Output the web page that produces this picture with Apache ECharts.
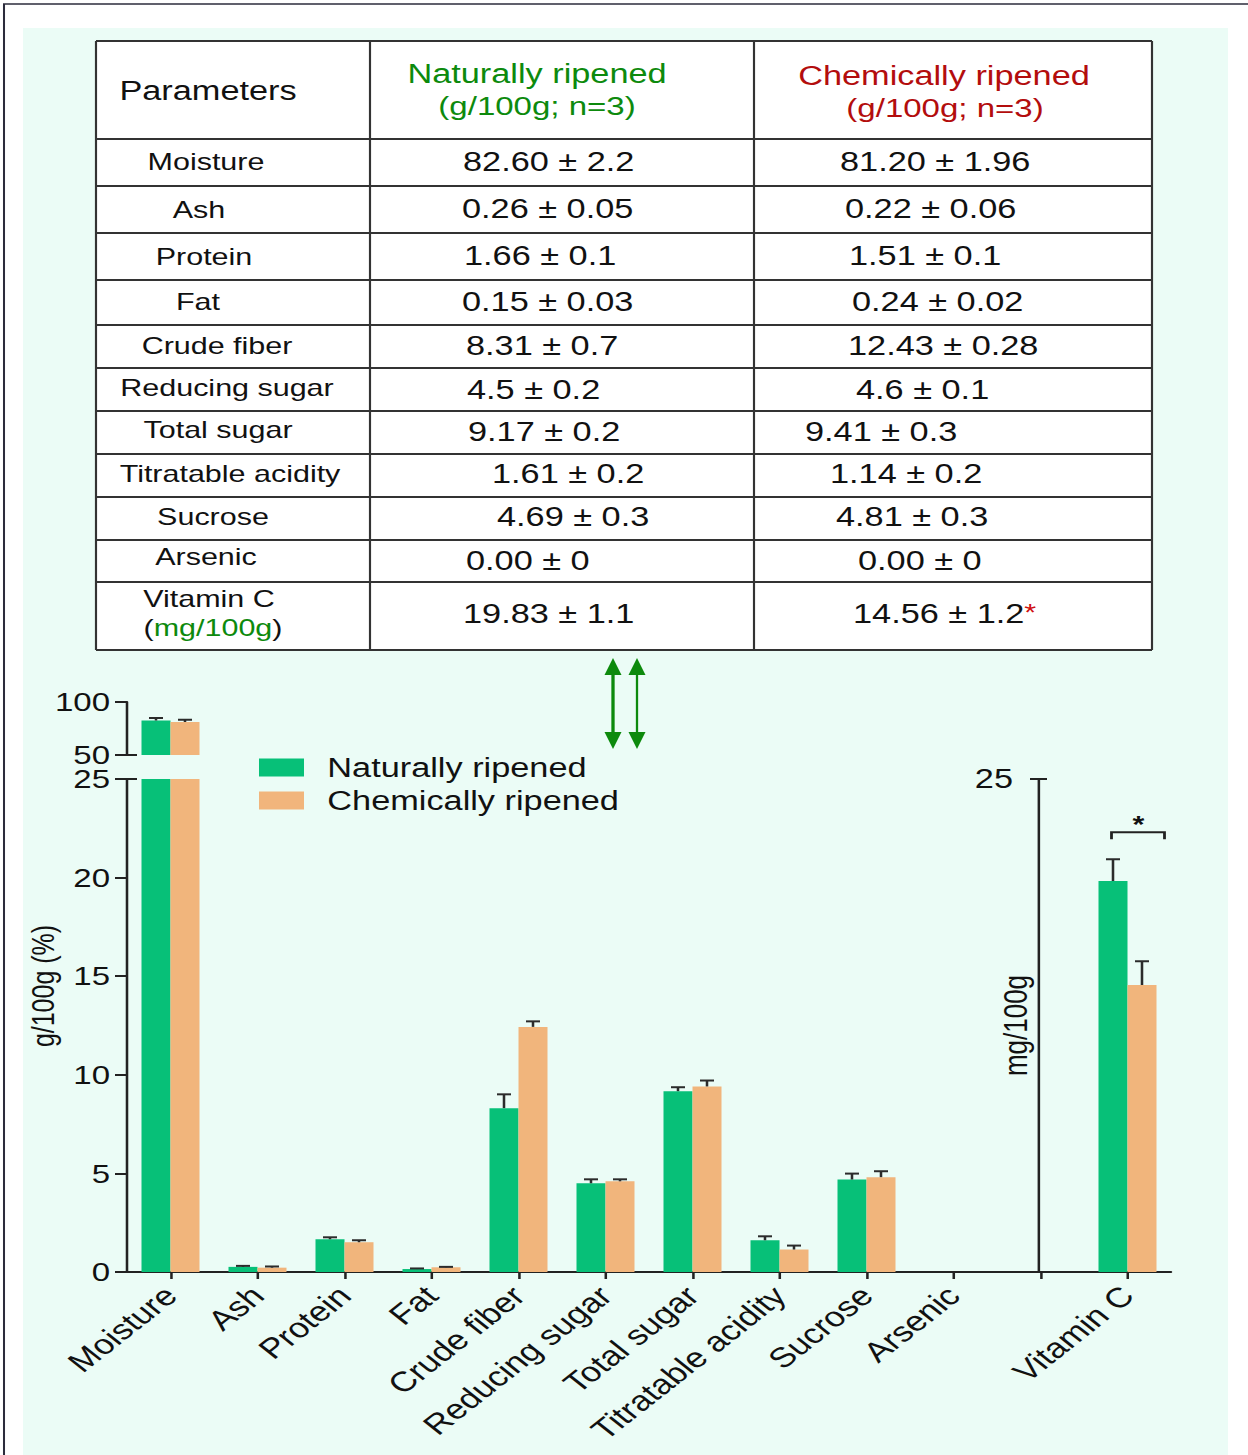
<!DOCTYPE html>
<html>
<head>
<meta charset="utf-8">
<title>Proximate composition of naturally and chemically ripened fruit</title>
<script src="https://cdn.jsdelivr.net/npm/echarts@6/dist/echarts.min.js"></script>
<style>
  html, body { margin: 0; padding: 0; background: #ffffff; overflow: hidden; }
  /* the drawing is laid out narrow and widened horizontally as a whole */
  #chart { width: 982.68px; height: 1455px; transform: scaleX(1.27); transform-origin: 0 0; }
</style>
</head>
<body>
<div id="chart"></div>
<script>
// ---------------- data ----------------
const parameters = ['Moisture', 'Ash', 'Protein', 'Fat', 'Crude fiber', 'Reducing sugar',
  'Total sugar', 'Titratable acidity', 'Sucrose', 'Arsenic', 'Vitamin C'];
const mgParameters = ['Vitamin C'];               // reported in mg/100g, all others in g/100g

const naturalMean = [82.60, 0.26, 1.66, 0.15, 8.31, 4.5, 9.17, 1.61, 4.69, 0.00, 19.83];
const naturalSD   = [2.2, 0.05, 0.1, 0.03, 0.7, 0.2, 0.2, 0.2, 0.3, 0, 1.1];
const chemicalMean = [81.20, 0.22, 1.51, 0.24, 12.43, 4.6, 9.41, 1.14, 4.81, 0.00, 14.56];
const chemicalSD   = [1.96, 0.06, 0.1, 0.02, 0.28, 0.1, 0.3, 0.2, 0.3, 0, 1.2];

const naturalText = ['82.60 ± 2.2', '0.26 ± 0.05', '1.66 ± 0.1', '0.15 ± 0.03', '8.31 ± 0.7',
  '4.5 ± 0.2', '9.17 ± 0.2', '1.61 ± 0.2', '4.69 ± 0.3', '0.00 ± 0', '19.83 ± 1.1'];
const chemicalText = ['81.20 ± 1.96', '0.22 ± 0.06', '1.51 ± 0.1', '0.24 ± 0.02', '12.43 ± 0.28',
  '4.6 ± 0.1', '9.41 ± 0.3', '1.14 ± 0.2', '4.81 ± 0.3', '0.00 ± 0', '14.56 ± 1.2'];

// bar chart x categories: one empty slot where the mg/100g axis stands
const chartCategories = parameters.slice(0, 10).concat(['', 'Vitamin C']);

const lowerRange = [0, 25];     // g/100g, lower segment of the broken axis
const lowerStep = 5;
const upperRange = [50, 100];   // g/100g, upper segment
const upperStep = 50;
const mgRange = [0, 25];        // mg/100g axis
const mgLabels = [25];

const seriesNames = ['Naturally ripened', 'Chemically ripened'];

// ---------------- layout & style ----------------
const STRETCH = 1.27;
const hx = v => v / STRETCH;          // page x → drawing x
const FONT = '"Liberation Sans", Arial, Helvetica, sans-serif';
const GREEN = '#07c078';
const ORANGE = '#f1b57c';
const DARK_GREEN = '#0d8a0d';
const DARK_RED = '#b30d0d';
const INK = '#111111';
const AXIS = '#222222';
const MINT = '#ebfcf6';
const BAR_FRACTION = 1 / 3;

const plotLeft = hx(127);
const plotWidth = hx(1171) - hx(127);
const mgAxisX = hx(1039);

const catParam = chartCategories.map(c => parameters.indexOf(c));
const isMg = p => mgParameters.indexOf(parameters[p]) >= 0;

const lowerValues = mean => catParam.map(p => (p >= 0 && !isMg(p)) ? mean[p] : null);
const upperValues = mean => catParam.map(p => (p >= 0 && !isMg(p) && mean[p] >= upperRange[0]) ? mean[p] : null);
const mgValues = mean => catParam.map(p => (p >= 0 && isMg(p)) ? mean[p] : null);

// error bar items [categoryIndex, mean, sd, side]
function errorItems(mean, sd, side, keep) {
  const out = [];
  catParam.forEach((p, i) => {
    if (p >= 0 && sd[p] > 0 && keep(p)) out.push([i, mean[p], sd[p], side]);
  });
  return out;
}
const inLower = mean => p => !isMg(p) && mean[p] < lowerRange[1];
const inUpper = mean => p => !isMg(p) && mean[p] >= upperRange[0];
const inMg = () => p => isMg(p);

function renderErrorBar(params, api) {
  const cat = api.value(0), v = api.value(1), e = api.value(2), side = api.value(3);
  const band = api.size([1, 0])[0];
  const x = api.coord([cat, v])[0] + side * band * BAR_FRACTION / 2;
  const y0 = api.coord([cat, v])[1];
  const y1 = api.coord([cat, v + e])[1];
  const cap = hx(14) / 2;
  const st = { stroke: '#2b2b2b', lineWidth: 2 };
  return {
    type: 'group',
    children: [
      { type: 'line', shape: { x1: x, y1: y0, x2: x, y2: y1 }, style: st },
      { type: 'line', shape: { x1: x - cap, y1: y1, x2: x + cap, y2: y1 }, style: st }
    ]
  };
}

function barSeries(name, color, xi, yi, data) {
  return {
    type: 'bar', name: name, xAxisIndex: xi, yAxisIndex: yi, data: data,
    barWidth: (BAR_FRACTION * 100).toFixed(2) + '%', barGap: '0%', clip: true,
    itemStyle: { color: color }, emphasis: { disabled: true }, z: 2
  };
}
function errorSeries(xi, yi, data) {
  return {
    type: 'custom', name: 'sd', coordinateSystem: 'cartesian2d', xAxisIndex: xi, yAxisIndex: yi,
    data: data, renderItem: renderErrorBar, clip: true, z: 5, silent: true
  };
}

const axisLineStyle = { color: AXIS, width: 2 };
const labelBase = { color: INK, fontSize: 27, fontFamily: FONT };

function valueAxis(gridIndex, range, step, extra, labelExtra) {
  return Object.assign({
    gridIndex: gridIndex, type: 'value', min: range[0], max: range[1], interval: step,
    axisLine: { show: true, lineStyle: axisLineStyle },
    axisTick: { show: true, inside: false, length: hx(12), lineStyle: axisLineStyle },
    axisLabel: Object.assign({ margin: hx(17) }, labelBase, labelExtra || {}),
    splitLine: { show: false }
  }, extra || {});
}

const grids = [
  { left: plotLeft, width: plotWidth, top: 779, height: 493 },
  { left: plotLeft, width: plotWidth, top: 702, height: 53 },
  { left: plotLeft, width: plotWidth, top: 779, height: 493 }
].map(g => Object.assign(g, { containLabel: false, outerBoundsMode: 'none' }));

// ---------------- table ----------------
const tableCols = [hx(96), hx(370), hx(754), hx(1152)];
const tableRows = [41, 139, 186, 233, 280, 325, 368, 411, 454, 497, 540, 582, 650];
const nameX = [206, 199, 204, 198, 217, 227, 218, 230, 213, 206, 209];
const nameY = [162, 210, 257, 302, 346, 388, 430, 474, 517, 557, 599];
const naturalX = [463, 462, 464, 462, 466, 467, 468, 492, 497, 466, 463];
const chemicalX = [840, 845, 849, 852, 848, 856, 805, 830, 836, 858, 853];
const valueY = [162, 209, 256, 302, 346, 390, 432, 474, 517, 561, 614];

function txt(x, y, text, size, color, align, extra) {
  return Object.assign({
    type: 'text', x: x, y: y, z: 20,
    style: { text: text, fill: color || INK, fontSize: size, fontFamily: FONT,
             align: align || 'center', verticalAlign: 'middle' }
  }, extra || {});
}

const graphics = [];
// page frame and tinted panel
graphics.push({ type: 'rect', z: -20, shape: { x: hx(4), y: 4, width: hx(1260), height: 1470 },
  style: { fill: '#ffffff', stroke: '#2c2c3c', lineWidth: 1.6 } });
graphics.push({ type: 'rect', z: -19, shape: { x: hx(23), y: 28, width: hx(1228) - hx(23), height: 1440 },
  style: { fill: MINT } });
// table body
graphics.push({ type: 'rect', z: 10, shape: { x: tableCols[0], y: tableRows[0],
  width: tableCols[3] - tableCols[0], height: tableRows[tableRows.length - 1] - tableRows[0] },
  style: { fill: '#ffffff' } });
tableRows.forEach(y => graphics.push({ type: 'line', z: 11,
  shape: { x1: tableCols[0], y1: y, x2: tableCols[3], y2: y }, style: { stroke: '#333', lineWidth: 2 } }));
tableCols.forEach(x => graphics.push({ type: 'line', z: 11,
  shape: { x1: x, y1: tableRows[0], x2: x, y2: tableRows[tableRows.length - 1] },
  style: { stroke: '#333', lineWidth: 1.7 } }));
// header
graphics.push(txt(hx(208), 91, 'Parameters', 27));
graphics.push(txt(hx(537), 74, 'Naturally ripened', 27, DARK_GREEN));
graphics.push(txt(hx(537), 106, '(g/100g; n=3)', 26, DARK_GREEN));
graphics.push(txt(hx(944), 76, 'Chemically ripened', 27, DARK_RED));
graphics.push(txt(hx(945), 108, '(g/100g; n=3)', 26, DARK_RED));
// rows
parameters.forEach((name, i) => {
  graphics.push(txt(hx(nameX[i]), nameY[i], name, 24));
  graphics.push(txt(hx(naturalX[i]), valueY[i], naturalText[i], 27, INK, 'left'));
  if (isMg(i)) {
    graphics.push({
      type: 'text', x: hx(213), y: 628, z: 20,
      style: { text: '{k|(}{g|mg/100g}{k|)}', align: 'center', verticalAlign: 'middle',
        rich: { k: { fill: INK, fontSize: 24, fontFamily: FONT }, g: { fill: DARK_GREEN, fontSize: 24, fontFamily: FONT } } }
    });
    graphics.push({
      type: 'text', x: hx(chemicalX[i]), y: valueY[i], z: 20,
      style: { text: '{v|' + chemicalText[i] + '}{s|*}', align: 'left', verticalAlign: 'middle',
        rich: { v: { fill: INK, fontSize: 27, fontFamily: FONT },
                s: { fill: '#d01010', fontSize: 24, fontFamily: FONT, verticalAlign: 'top' } } }
    });
  } else {
    graphics.push(txt(hx(chemicalX[i]), valueY[i], chemicalText[i], 27, INK, 'left'));
  }
});
// double arrows linking the table to the chart
function doubleArrow(x, yTop, yBot, w) {
  const hw = hx(8.5), hh = 17;
  return [
    { type: 'line', z: 12, shape: { x1: x, y1: yTop + hh - 1, x2: x, y2: yBot - hh + 1 }, style: { stroke: DARK_GREEN, lineWidth: w } },
    { type: 'polygon', z: 12, shape: { points: [[x, yTop], [x - hw, yTop + hh], [x + hw, yTop + hh]] }, style: { fill: DARK_GREEN } },
    { type: 'polygon', z: 12, shape: { points: [[x, yBot], [x - hw, yBot - hh], [x + hw, yBot - hh]] }, style: { fill: DARK_GREEN } }
  ];
}
doubleArrow(hx(613), 658, 749, 2.6).forEach(g => graphics.push(g));
doubleArrow(hx(637), 658, 749, 1.8).forEach(g => graphics.push(g));
// left axis title
graphics.push(txt(hx(43), 986, 'g/100g (%)', 25, INK, 'center', { rotation: Math.PI / 2 }));

// ---------------- chart ----------------
const option = {
  animation: false,
  backgroundColor: '#ffffff',
  textStyle: { fontFamily: FONT },
  grid: grids,
  legend: {
    orient: 'vertical', left: hx(259), top: 754, padding: 0,
    itemWidth: hx(45), itemHeight: 18, itemGap: 6,
    icon: 'rect', selectedMode: false, data: seriesNames,
    textStyle: { fontSize: 27, color: INK, fontFamily: FONT, padding: [0, 0, 0, hx(17)] }
  },
  xAxis: [
    {
      gridIndex: 0, type: 'category', data: chartCategories, boundaryGap: true,
      axisLine: { show: true, onZero: false, lineStyle: axisLineStyle },
      axisTick: { show: true, alignWithLabel: true, length: 7, lineStyle: axisLineStyle },
      axisLabel: Object.assign({ rotate: 45, interval: 0, margin: 19 }, labelBase, { fontSize: 28 }),
      splitLine: { show: false }
    },
    { gridIndex: 1, type: 'category', data: chartCategories, show: false },
    { gridIndex: 2, type: 'category', data: chartCategories, show: false }
  ],
  yAxis: [
    // lower segment labels sit a touch below their ticks, upper ones a touch above
    valueAxis(0, lowerRange, lowerStep, null, { fontSize: 26, lineHeight: 20, padding: [5, 0, 0, 0] }),
    valueAxis(1, upperRange, upperStep, null, { fontSize: 26, lineHeight: 20, padding: [0, 0, 5, 0] }),
    valueAxis(2, mgRange, mgRange[1] - mgRange[0], {
      position: 'left', offset: -(mgAxisX - plotLeft),
      name: 'mg/100g', nameLocation: 'middle', nameRotate: 90, nameGap: 6, nameMoveOverlap: false,
      nameTextStyle: { color: INK, fontSize: 26, fontFamily: FONT },
      axisTick: { show: true, inside: false, length: hx(9), lineStyle: axisLineStyle },
      axisLabel: Object.assign({ margin: hx(26), formatter: v => mgLabels.indexOf(v) >= 0 ? String(v) : '' }, labelBase)
    })
  ],
  series: [
    barSeries(seriesNames[0], GREEN, 0, 0, lowerValues(naturalMean)),
    barSeries(seriesNames[1], ORANGE, 0, 0, lowerValues(chemicalMean)),
    barSeries(seriesNames[0], GREEN, 1, 1, upperValues(naturalMean)),
    barSeries(seriesNames[1], ORANGE, 1, 1, upperValues(chemicalMean)),
    barSeries(seriesNames[0], GREEN, 2, 2, mgValues(naturalMean)),
    barSeries(seriesNames[1], ORANGE, 2, 2, mgValues(chemicalMean)),
    errorSeries(0, 0, errorItems(naturalMean, naturalSD, -1, inLower(naturalMean))
      .concat(errorItems(chemicalMean, chemicalSD, 1, inLower(chemicalMean)))),
    errorSeries(1, 1, errorItems(naturalMean, naturalSD, -1, inUpper(naturalMean))
      .concat(errorItems(chemicalMean, chemicalSD, 1, inUpper(chemicalMean)))),
    errorSeries(2, 2, errorItems(naturalMean, naturalSD, -1, inMg())
      .concat(errorItems(chemicalMean, chemicalSD, 1, inMg())))
  ],
  graphic: { elements: graphics }
};

const chart = echarts.init(document.getElementById('chart'), null, { renderer: 'svg' });
chart.setOption(option);

// axis-break marks crossing the axes, and the significance bracket
const overlay = [];
const tickStyle = { stroke: AXIS, lineWidth: 2 };
const yUpperBreak = chart.convertToPixel({ yAxisIndex: 1 }, upperRange[0]);
const yLowerBreak = chart.convertToPixel({ yAxisIndex: 0 }, lowerRange[1]);
const yMgTop = chart.convertToPixel({ yAxisIndex: 2 }, mgRange[1]);
overlay.push({ type: 'line', z: 30, shape: { x1: plotLeft, y1: yUpperBreak, x2: plotLeft + hx(10), y2: yUpperBreak }, style: tickStyle });
overlay.push({ type: 'line', z: 30, shape: { x1: plotLeft, y1: yLowerBreak, x2: plotLeft + hx(10), y2: yLowerBreak }, style: tickStyle });
overlay.push({ type: 'line', z: 30, shape: { x1: mgAxisX, y1: yMgTop, x2: mgAxisX + hx(8), y2: yMgTop }, style: tickStyle });

const vitIdx = chartCategories.indexOf('Vitamin C');
const cx = chart.convertToPixel({ xAxisIndex: 2 }, vitIdx);
const by = chart.convertToPixel({ yAxisIndex: 2 }, 22.3);
const bx1 = cx - hx(16), bx2 = cx + hx(37);
overlay.push({ type: 'polyline', z: 30, shape: { points: [[bx1, by + 7], [bx1, by], [bx2, by], [bx2, by + 7]] },
  style: { stroke: AXIS, lineWidth: 2.2, fill: null } });
overlay.push(txt(cx + hx(11), by - 8, '*', 24, INK, 'center', { style: { text: '*', fill: INK, fontSize: 24, fontWeight: 'bold', fontFamily: FONT, align: 'center', verticalAlign: 'middle' } }));

chart.setOption({ graphic: { elements: graphics.concat(overlay) } });
</script>
</body>
</html>
